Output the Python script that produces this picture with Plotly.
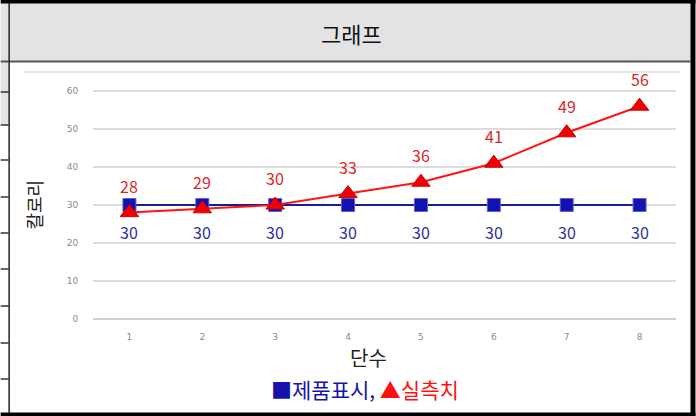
import plotly.graph_objects as go

# ---- data ----
steps = [1, 2, 3, 4, 5, 6, 7, 8]
product_label = [30, 30, 30, 30, 30, 30, 30, 30]
measured = [28, 29, 30, 33, 36, 41, 49, 56]
y_ticks = [0, 10, 20, 30, 40, 50, 60]
series_names = ["제품표시", "실측치"]
header_text = "그래프"
x_title = "단수"
y_title = "칼로리"

W, H = 696, 416
L, R, T, B = 92.5, 676.5, 73, 319  # plot area in pixels
Y_TOP = 60 + (91 - T) / 3.8

def px(x):
    return (x - L) / (R - L)

def py(y):
    return (B - y) / (B - T)

KFONT = "Noto Sans CJK KR"
RED = "#ff1414"

fig = go.Figure()
fig.add_trace(go.Scatter(
    x=steps, y=product_label, mode="lines+markers", name=series_names[0],
    line=dict(color="#1c1c8e", width=2),
    marker=dict(symbol="square", size=13, color="#1212b0", line=dict(color="#6060d0", width=1)),
    cliponaxis=False, hoverinfo="skip"))
fig.add_trace(go.Scatter(
    x=steps, y=measured, mode="lines+markers", name=series_names[1],
    line=dict(color=RED, width=2),
    marker=dict(symbol="triangle-up", size=16, color="#f00000", line=dict(color="#c80000", width=1)),
    cliponaxis=False, hoverinfo="skip"))

annotations = []
for s, v in zip(steps, product_label):
    annotations.append(dict(x=s, y=v, xref="x", yref="y", text=str(v), showarrow=False,
                            xanchor="center", yanchor="middle",
                            yshift=-27, font=dict(family=KFONT, size=16, color="#30309a")))
for s, v in zip(steps, measured):
    annotations.append(dict(x=s, y=v, xref="x", yref="y", text=str(v), showarrow=False,
                            xanchor="center", yanchor="middle",
                            yshift=27, font=dict(family=KFONT, size=16, color="#d82828")))

def note(x, y, text, size, color="#222222", angle=0):
    annotations.append(dict(x=px(x), y=py(y), xref="paper", yref="paper", text=text,
                            xanchor="center", yanchor="middle", textangle=angle,
                            showarrow=False, font=dict(family=KFONT, size=size, color=color)))

note(351, 33, header_text, 22, "#111111")
note(368, 357, x_title, 20)
note(33, 205, y_title, 18, angle=-90)
note(365, 389, f"<span style='color:#1414a8'>■{series_names[0]},</span> "
               f"<span style='color:#ff1010'>▲{series_names[1]}</span>", 21)

shapes = []
def rect(x0, y0, x1, y1, fill, layer="above"):
    shapes.append(dict(type="rect", xref="paper", yref="paper", x0=px(x0), x1=px(x1),
                       y0=py(y0), y1=py(y1), fillcolor=fill, line=dict(width=0), layer=layer))
def hline(x0, x1, y, color, width=1):
    shapes.append(dict(type="line", xref="paper", yref="paper", x0=px(x0), x1=px(x1),
                       y0=py(y), y1=py(y), line=dict(color=color, width=width), layer="above"))
def vline(x, y0, y1, color, width=1):
    shapes.append(dict(type="line", xref="paper", yref="paper", x0=px(x), x1=px(x),
                       y0=py(y0), y1=py(y1), line=dict(color=color, width=width), layer="above"))

# header band and left column fill
rect(0, 3, 691, 61, "#e3e3e3", layer="below")
rect(0, 61, 8, 125, "#e3e3e3")
# left column row lines
for yy in [92, 125, 160, 197, 233, 269, 306, 343, 379]:
    hline(0, 8, yy, "#333333", 1.5)
# header bottom line
hline(0, 691, 61.5, "#555555", 2)
vline(8.5, 3, 413, "#222222", 1.5)
# faint chart top line
hline(23, 681, 72, "#e6e6e6", 2)
# outer borders
rect(0, 0, 696, 3.5, "#000000")
rect(691, 0, 696, 416, "#000000")
rect(0, 412.5, 696, 416, "#000000")

fig.update_layout(
    width=W, height=H,
    margin=dict(l=L, r=W - R, t=T, b=H - B, autoexpand=False),
    paper_bgcolor="white", plot_bgcolor="white",
    showlegend=False,
    annotations=annotations, shapes=shapes,
    xaxis=dict(range=[0.5, 8.5], tickvals=steps, ticktext=[str(s) for s in steps],
               showgrid=False, zeroline=False, showline=False,
               ticks="outside", ticklen=9, tickcolor="rgba(0,0,0,0)",
               tickfont=dict(family="DejaVu Sans", size=9, color="#8a8a8a")),
    yaxis=dict(range=[0, Y_TOP], tickvals=y_ticks, showgrid=True, gridcolor="#dcdcdc", gridwidth=1.5,
               zeroline=True, zerolinecolor="#d0d0d0", zerolinewidth=1.5, showline=False,
               ticks="outside", ticklen=12, tickcolor="rgba(0,0,0,0)",
               tickfont=dict(family="DejaVu Sans", size=9, color="#8a8a8a")),
)

fig.write_html("out.html", config={"displayModeBar": False},
               post_script="document.body.style.margin='0';document.body.style.overflow='hidden';")
